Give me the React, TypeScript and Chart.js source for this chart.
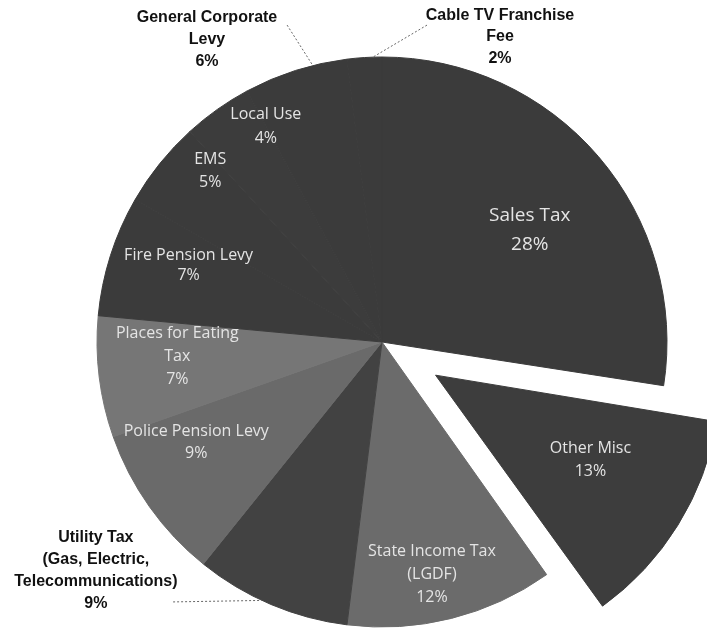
import React, { useEffect, useRef } from "react";
import { Chart, registerables } from "chart.js";

Chart.register(...registerables);

// ---- data ----
const categories = [
  "Sales Tax",
  "Other Misc",
  "State Income Tax (LGDF)",
  "Utility Tax (Gas, Electric, Telecommunications)",
  "Police Pension Levy",
  "Places for Eating Tax",
  "Fire Pension Levy",
  "EMS",
  "Local Use",
  "General Corporate Levy",
  "Cable TV Franchise Fee",
];
const labelLines = [
  ["Sales Tax"],
  ["Other Misc"],
  ["State Income Tax", "(LGDF)"],
  ["Utility Tax", "(Gas, Electric,", "Telecommunications)"],
  ["Police Pension Levy"],
  ["Places for Eating", "Tax"],
  ["Fire Pension Levy"],
  ["EMS"],
  ["Local Use"],
  ["General Corporate", "Levy"],
  ["Cable TV Franchise", "Fee"],
];
const shares = [28, 13, 12, 9, 9, 7, 7, 5, 4, 6, 2];

// ---- styles ----
const sliceColors = [
  "#3b3b3b",
  "#3d3d3d",
  "#6b6b6b",
  "#424242",
  "#6a6a6a",
  "#767676",
  "#3b3b3b",
  "#3b3b3b",
  "#3c3c3c",
  "#3b3b3b",
  "#3b3b3b",
];
// desired outward shift of each slice, in pixels
const explodePx = [0, 63, 0, 0, 0, 0, 0, 0, 0, 0, 0];

type Place =
  | { inside: true; r: number; dAngle: number; size: number; lh: number }
  | { inside: false; fx: number; fy: number; lx: number; ly: number; edgeD: number };

const placements: Place[] = [
  { inside: true, r: 0.65, dAngle: 3.5, size: 19, lh: 29 },
  { inside: true, r: 0.62, dAngle: -3, size: 16, lh: 23 },
  { inside: true, r: 0.835, dAngle: 2, size: 16, lh: 23 },
  { inside: false, fx: -1.004, fy: 0.688, lx: -0.733, ly: 0.912, edgeD: 2 },
  { inside: true, r: 0.74, dAngle: 7, size: 16, lh: 22 },
  { inside: true, r: 0.72, dAngle: 3, size: 16, lh: 23 },
  { inside: true, r: 0.73, dAngle: 4, size: 16, lh: 20 },
  { inside: true, r: 0.85, dAngle: 6, size: 16, lh: 23 },
  { inside: true, r: 0.86, dAngle: 7, size: 16, lh: 24 },
  { inside: false, fx: -0.614, fy: -1.137, lx: -0.333, ly: -1.112, edgeD: 3.6 },
  { inside: false, fx: 0.414, fy: -1.147, lx: 0.158, ly: -1.112, edgeD: 1.7 },
];

// Chart.js shifts an arc's apex by offset/4 (and grows its radius by offset/4 * fix)
const total = shares.reduce((a, b) => a + b, 0);
const offsetOption = explodePx.map((px) => px * 4);
const radiusFix = shares.map((v) => 1 - Math.sin(Math.min(Math.PI, (v / total) * Math.PI * 2)));

const keepRadiusPlugin = {
  id: "keepRadius",
  beforeDatasetsDraw(chart: any) {
    const meta = chart.getDatasetMeta(0);
    const R = meta.controller.outerRadius;
    meta.data.forEach((arc: any, i: number) => {
      if (explodePx[i]) arc.outerRadius = R - explodePx[i] * radiusFix[i];
    });
  },
};

const labelPlugin = {
  id: "sliceLabels",
  afterDatasetsDraw(chart: any) {
    const ctx: CanvasRenderingContext2D = chart.ctx;
    const meta = chart.getDatasetMeta(0);
    const R = meta.controller.outerRadius;
    meta.data.forEach((arc: any, i: number) => {
      const p = arc.getProps(["x", "y", "startAngle", "endAngle"], true);
      const mid = (p.startAngle + p.endAngle) / 2;
      const off = explodePx[i];
      const cx = p.x + Math.cos(mid) * off;
      const cy = p.y + Math.sin(mid) * off;
      const place = placements[i];
      const lines = [...labelLines[i], shares[i] + "%"];
      ctx.save();
      ctx.textAlign = "center";
      ctx.textBaseline = "middle";
      if (place.inside) {
        const a = mid + (place.dAngle * Math.PI) / 180;
        const tx = cx + Math.cos(a) * R * place.r;
        const ty = cy + Math.sin(a) * R * place.r;
        ctx.fillStyle = "#e4e4e4";
        ctx.font = `${place.size}px "Open Sans", "DejaVu Sans", sans-serif`;
        const y0 = ty - ((lines.length - 1) * place.lh) / 2;
        lines.forEach((t, k) => ctx.fillText(t, tx, y0 + k * place.lh));
      } else {
        const tx = p.x + R * place.fx;
        const ty = p.y + R * place.fy;
        ctx.fillStyle = "#111111";
        ctx.font = `bold 16px "Liberation Sans", Arial, sans-serif`;
        lines.forEach((t, k) => ctx.fillText(t, tx, ty + k * 21.7));
        const ea = mid + (place.edgeD * Math.PI) / 180;
        ctx.strokeStyle = "#666666";
        ctx.lineWidth = 1;
        ctx.setLineDash([2, 2]);
        ctx.beginPath();
        ctx.moveTo(p.x + R * place.lx, p.y + R * place.ly);
        ctx.lineTo(cx + Math.cos(ea) * R, cy + Math.sin(ea) * R);
        ctx.stroke();
      }
      ctx.restore();
    });
  },
};

export default function App() {
  const canvasRef = useRef<HTMLCanvasElement | null>(null);

  useEffect(() => {
    const canvas = canvasRef.current;
    if (!canvas) return;
    const chart = new Chart(canvas, {
      type: "pie",
      data: {
        labels: categories,
        datasets: [
          {
            data: shares,
            backgroundColor: sliceColors,
            borderColor: sliceColors,
            borderWidth: 1,
            offset: offsetOption,
            radius: 285,
            clip: false,
          } as any,
        ],
      },
      options: {
        responsive: false,
        devicePixelRatio: 1,
        animation: false,
        layout: { padding: { left: 57, top: 54, right: 0, bottom: 0 } },
        plugins: {
          legend: { display: false },
          tooltip: { enabled: false },
        },
      },
      plugins: [keepRadiusPlugin, labelPlugin],
    });
    return () => chart.destroy();
  }, []);

  return (
    <div style={{ position: "absolute", left: 0, top: 0, width: 707, height: 630, background: "#ffffff" }}>
      <canvas ref={canvasRef} width={707} height={630} style={{ display: "block" }} />
    </div>
  );
}
